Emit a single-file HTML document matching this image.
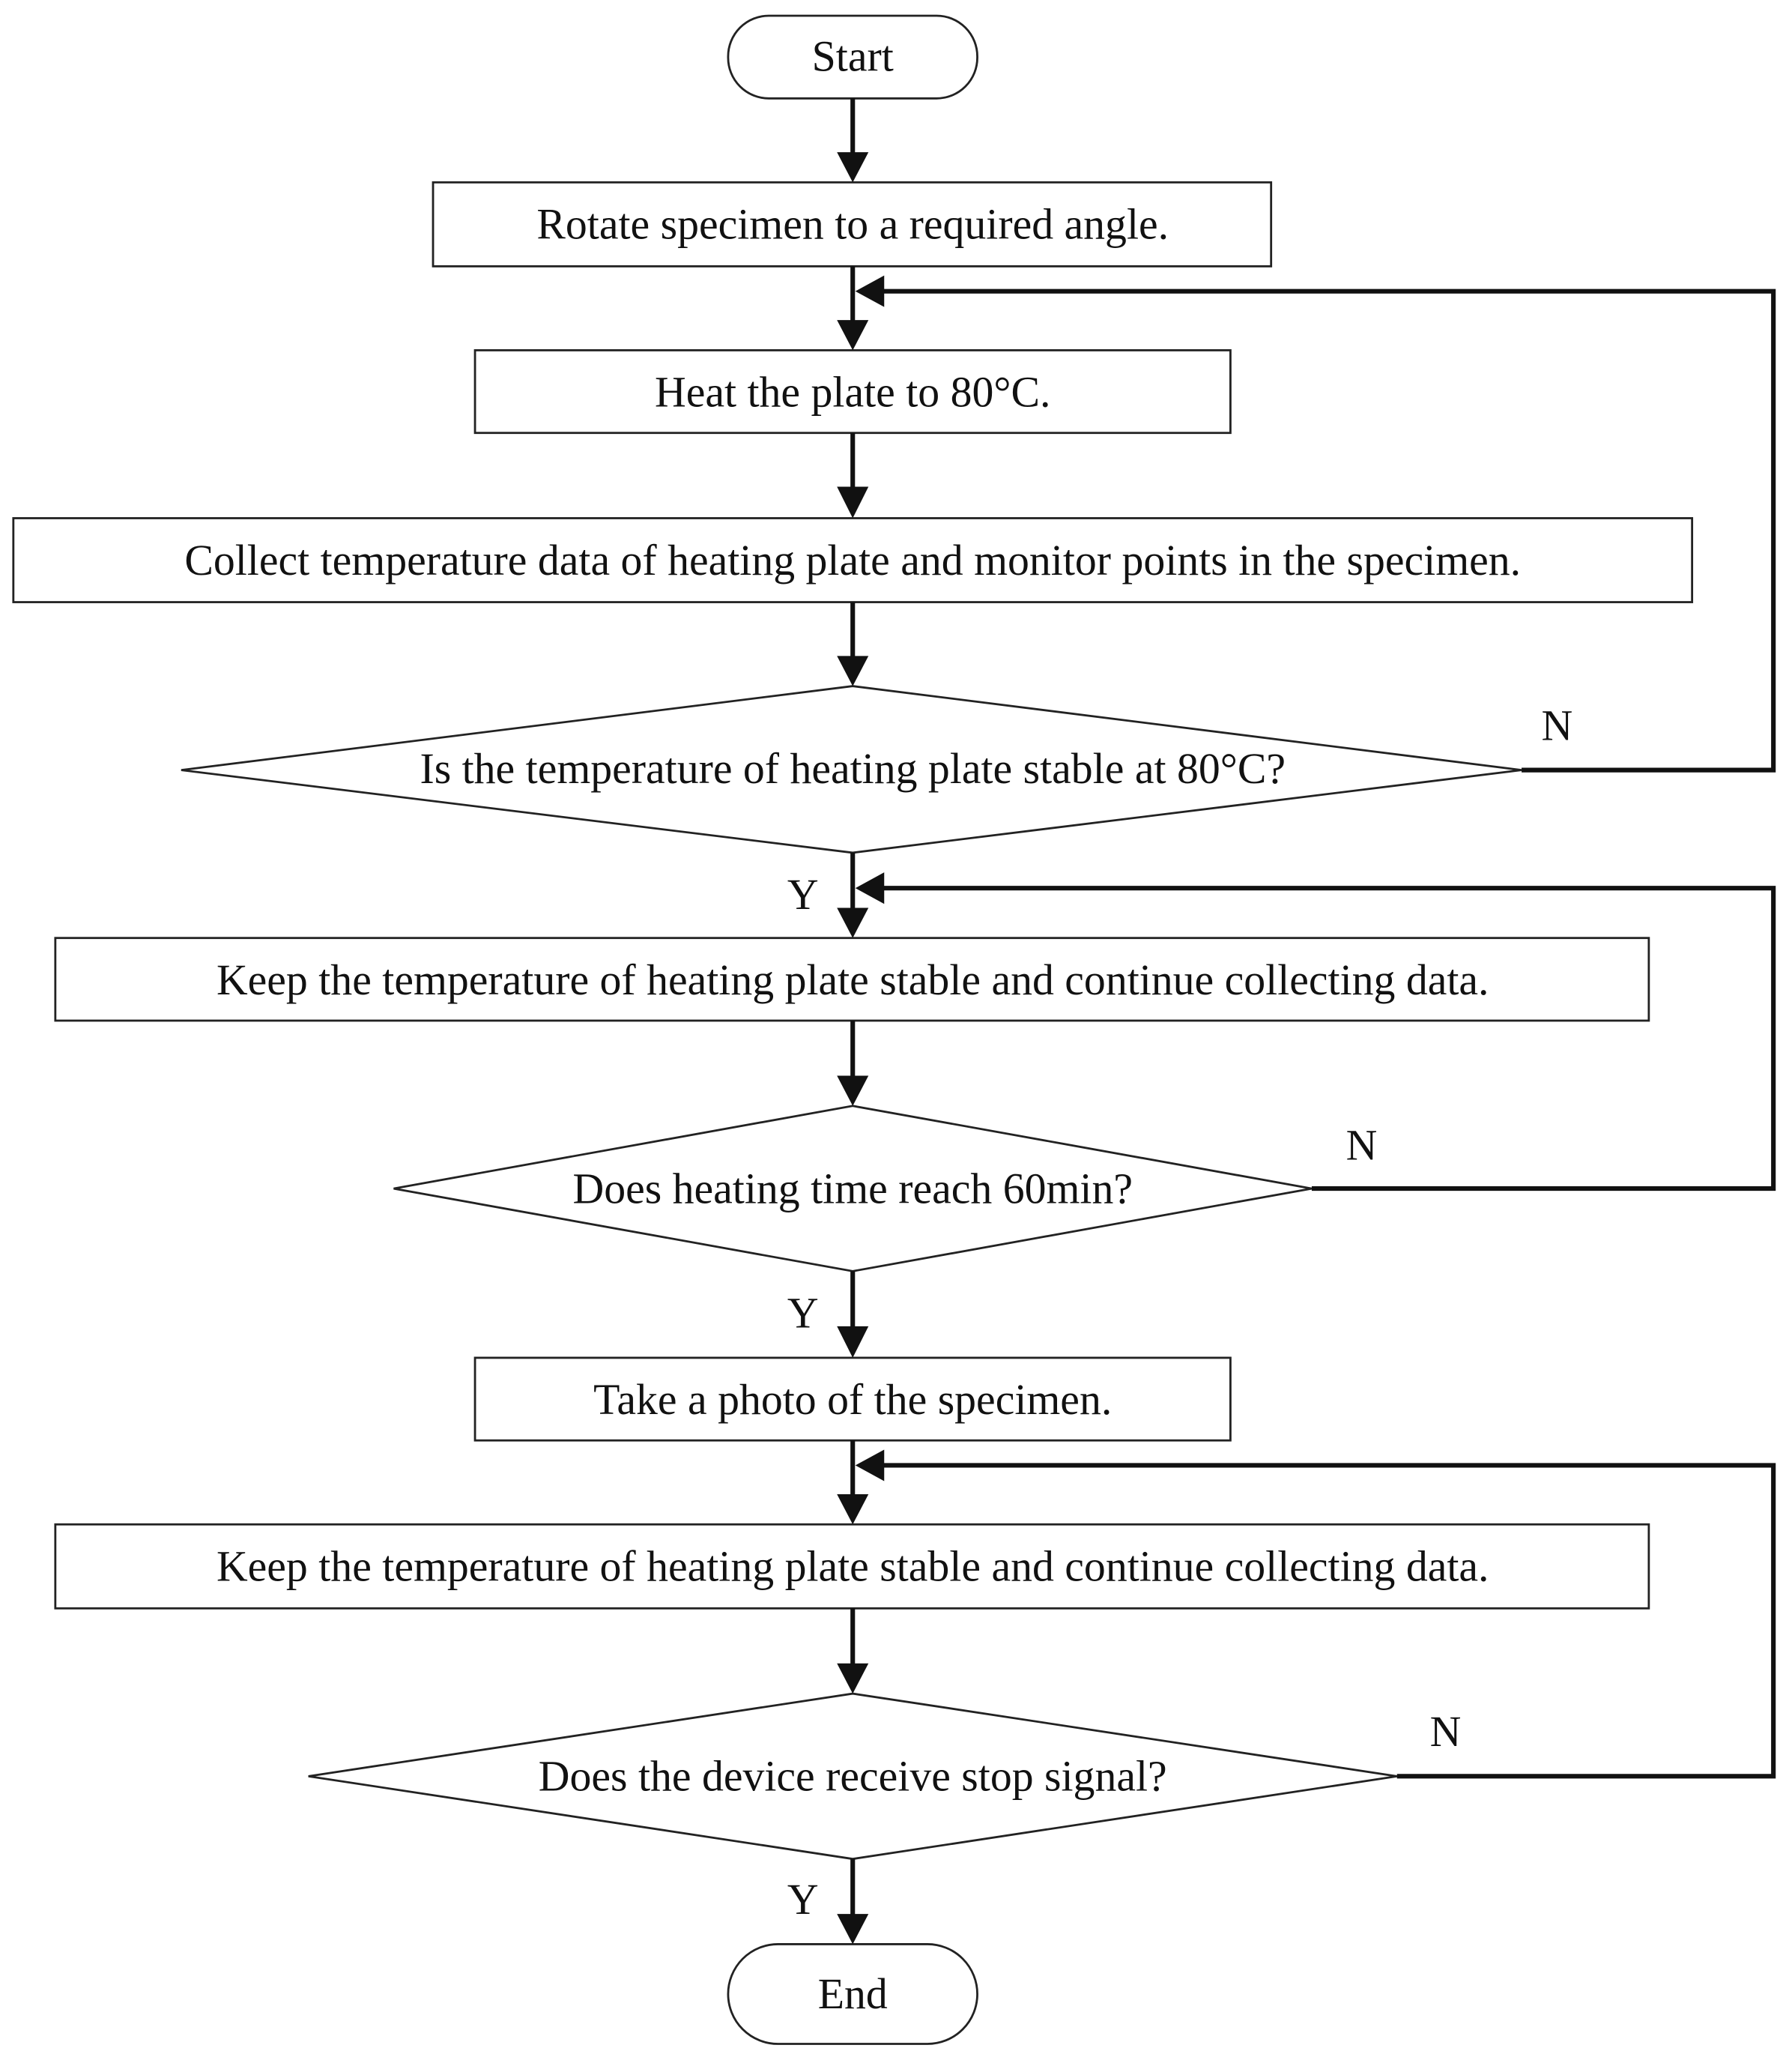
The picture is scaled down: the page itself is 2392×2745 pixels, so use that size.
<!DOCTYPE html>
<html><head><meta charset="utf-8"><style>
html,body{margin:0;padding:0;background:#fff;}
svg{display:block;}
text{font-family:"Liberation Serif",serif;font-size:33px;fill:#111;}
</style></head><body>
<svg width="2392" height="2745" viewBox="0 0 1366 1568" xmlns="http://www.w3.org/2000/svg">
<defs>
<marker id="a" markerWidth="10" markerHeight="10" refX="9" refY="5" orient="auto" markerUnits="userSpaceOnUse" viewBox="0 0 10 10">
</marker>
</defs>
<g fill="none" stroke="#222" stroke-width="1.6">
<rect x="555" y="12" width="190" height="63" rx="31"/>
<rect x="330" y="139" width="639" height="64"/>
<rect x="362" y="267" width="576" height="63"/>
<rect x="10" y="395" width="1280" height="64"/>
<polygon points="138,587 650,523 1160,587 650,650"/>
<rect x="42" y="715" width="1215" height="63"/>
<polygon points="300,906 650,843 1000,906 650,969"/>
<rect x="362" y="1035" width="576" height="63"/>
<rect x="42" y="1162" width="1215" height="64"/>
<polygon points="235,1354 650,1291 1065,1354 650,1417"/>
<rect x="555" y="1482" width="190" height="76" rx="38"/>
</g>
<g fill="none" stroke="#111" stroke-width="3.5">
<line x1="650" y1="75" x2="650" y2="118"/>
<line x1="650" y1="203" x2="650" y2="246"/>
<line x1="650" y1="330" x2="650" y2="373"/>
<line x1="650" y1="459" x2="650" y2="502"/>
<line x1="650" y1="650" x2="650" y2="694"/>
<line x1="650" y1="778" x2="650" y2="822"/>
<line x1="650" y1="969" x2="650" y2="1013"/>
<line x1="650" y1="1098" x2="650" y2="1141"/>
<line x1="650" y1="1226" x2="650" y2="1270"/>
<line x1="650" y1="1417" x2="650" y2="1461"/>
<polyline points="1160,587 1352,587 1352,222 672,222"/>
<polyline points="1000,906 1352,906 1352,677 672,677"/>
<polyline points="1065,1354 1352,1354 1352,1117 672,1117"/>
</g>
<g fill="#111">
<polygon points="638,116 662,116 650,139"/>
<polygon points="638,244 662,244 650,267"/>
<polygon points="638,371 662,371 650,395"/>
<polygon points="638,500 662,500 650,523"/>
<polygon points="638,692 662,692 650,715"/>
<polygon points="638,820 662,820 650,843"/>
<polygon points="638,1011 662,1011 650,1035"/>
<polygon points="638,1139 662,1139 650,1162"/>
<polygon points="638,1268 662,1268 650,1291"/>
<polygon points="638,1459 662,1459 650,1482"/>
<polygon points="674,210 674,234 652,222"/>
<polygon points="674,665 674,689 652,677"/>
<polygon points="674,1105 674,1129 652,1117"/>
</g>
<g text-anchor="middle">
<text x="650" y="54">Start</text>
<text x="650" y="182">Rotate specimen to a required angle.</text>
<text x="650" y="310">Heat the plate to 80°C.</text>
<text x="650" y="438">Collect temperature data of heating plate and monitor points in the specimen.</text>
<text x="650" y="597">Is the temperature of heating plate stable at 80°C?</text>
<text x="650" y="758">Keep the temperature of heating plate stable and continue collecting data.</text>
<text x="650" y="917">Does heating time reach 60min?</text>
<text x="650" y="1078">Take a photo of the specimen.</text>
<text x="650" y="1205">Keep the temperature of heating plate stable and continue collecting data.</text>
<text x="650" y="1365">Does the device receive stop signal?</text>
<text x="650" y="1531">End</text>
<text x="1187" y="564">N</text>
<text x="1038" y="884">N</text>
<text x="1102" y="1331">N</text>
<text x="612" y="693">Y</text>
<text x="612" y="1012">Y</text>
<text x="612" y="1459">Y</text>
</g>
</svg>
</body></html>
